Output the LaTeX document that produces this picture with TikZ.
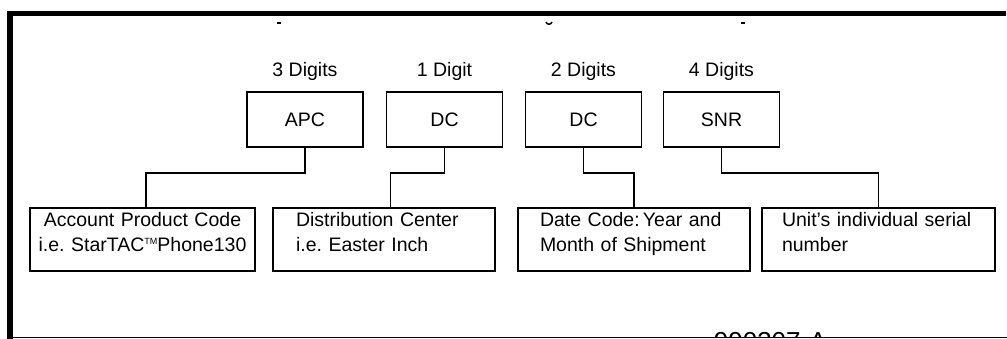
\documentclass[tikz,border=0pt]{standalone}
\usepackage{fontspec}
\setmainfont{Liberation Sans}
\frenchspacing
\newcommand{\tmark}{\raisebox{0.75ex}{\fontsize{9}{9}\selectfont TM}}
\begin{document}
\begin{tikzpicture}[x=1pt,y=-1pt,line width=1.8pt,
  lbl/.style={font=\fontsize{19.5}{23}\selectfont, inner sep=0pt, anchor=base},
  topbox/.style={draw, line width=1.8pt, minimum width=116pt, minimum height=55pt, inner sep=0pt, font=\fontsize{19.5}{23}\selectfont},
  botbox/.style={draw, line width=1.8pt, minimum height=63pt, inner ysep=0pt, font=\fontsize{19.5}{25}\selectfont, text height=14pt, text depth=39pt},
  conn/.style={draw, line width=1.8pt},
  frame/.style={fill=black, draw=none}]
\useasboundingbox (0,0) rectangle (1007,339);
% frame
\fill[frame] (7,11) rectangle (1006,16);
\fill[frame] (7,11) rectangle (13,339);
\draw[line width=1.4pt] (7,337.3) -- (1007,337.3);
% cut-off title fragments
\fill[frame] (277,22) rectangle (281,24.5);
\draw[line width=1.5pt] (546,22) .. controls (547,25) and (551,25) .. (552,22);
\fill[frame] (741,22) rectangle (745,24.5);
% digit labels
\node[lbl] (l1) at (305,77) {3 Digits};
\node[lbl] (l2) at (444.5,77) {1 Digit};
\node[lbl] (l3) at (583.5,77) {2 Digits};
\node[lbl] (l4) at (721.5,77) {4 Digits};
% upper boxes
\node[topbox] (apc) at (305,119.5) {APC};
\node[topbox] (dc1) at (444.5,119.5) {DC};
\node[topbox] (dc2) at (583.5,119.5) {DC};
\node[topbox] (snr) at (721.5,119.5) {SNR};
% lower boxes
\node[botbox, align=center, inner xsep=3pt, text width=219pt] (b1) at (142.5,239.5) {Account Product Code\\i.e. StarTAC\tmark Phone130};
\node[botbox, align=left, inner xsep=23pt, text width=176pt] (b2) at (384,239.5) {Distribution Center\\i.e. Easter Inch};
\node[botbox, align=left, inner xsep=22pt, text width=188pt] (b3) at (634,239.5) {Date Code:\,Year and\\Month of Shipment};
\node[botbox, align=left, inner xsep=20pt, text width=193pt] (b4) at (878.5,239.5) {Unit\char39 s individual serial\\number};
% connectors
\draw[conn] (apc.south) -- ++(0,25.5) -| ([xshift=3.5pt]b1.north);
\draw[conn] (dc1.south) -- ++(0,25.5) -| ([xshift=6.5pt]b2.north);
\draw[conn] (dc2.south) -- ++(0,25.5) -| (b3.north);
\draw[conn] (snr.south) -- ++(0,25.5) -| (b4.north);
% cut-off figure number
\begin{scope}
\clip (13,0) rectangle (1007,336.5);
\node[font=\fontsize{26}{30}\selectfont, inner sep=0pt, anchor=north west] (code) at (713,331) {990307-A};
\end{scope}
\end{tikzpicture}
\end{document}
